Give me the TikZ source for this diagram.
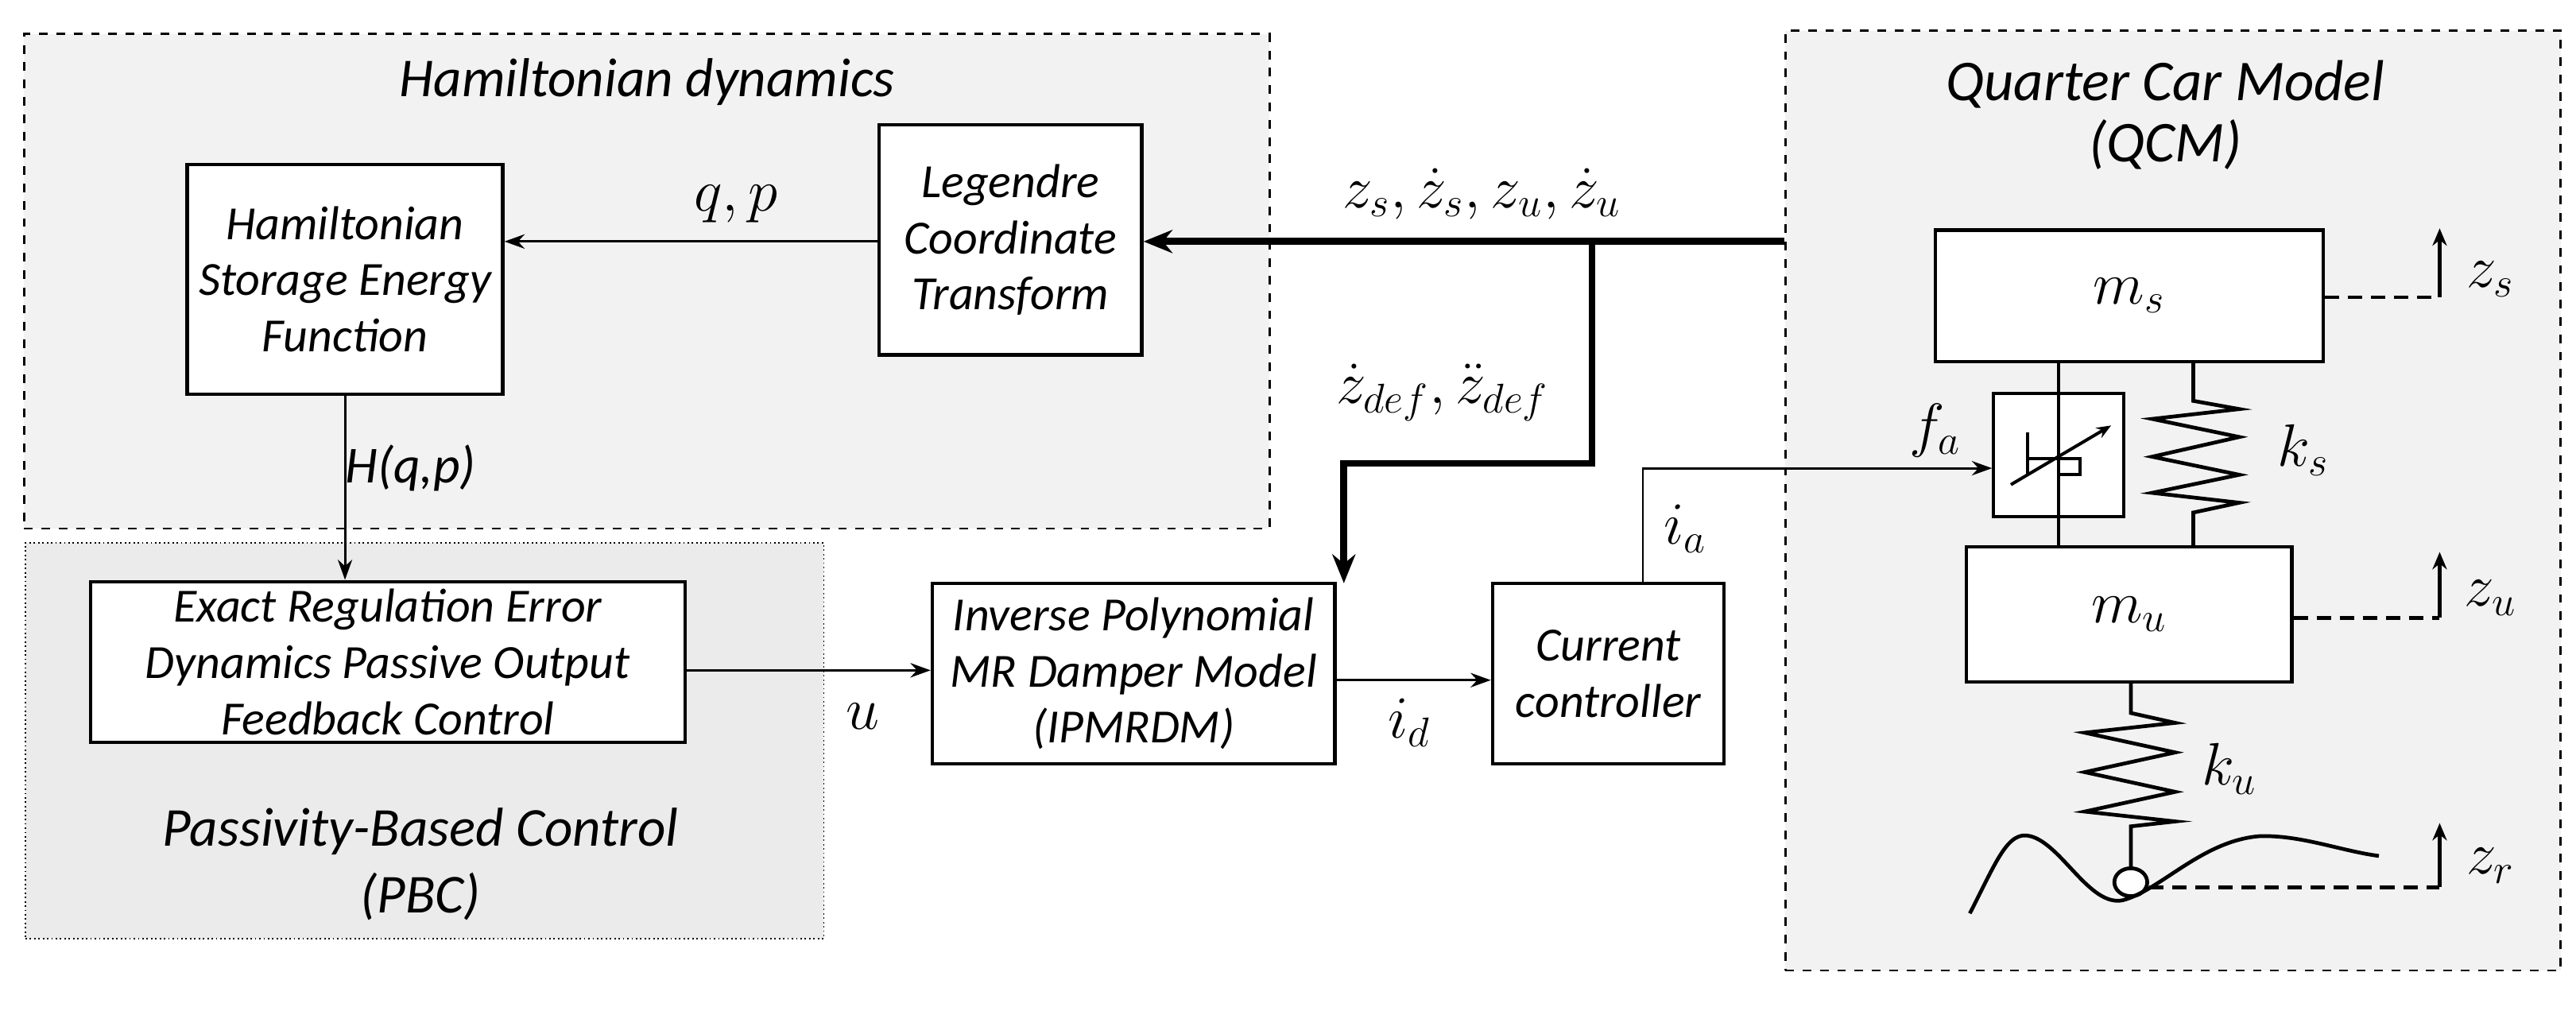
\documentclass[tikz,border=0pt]{standalone}
\usepackage{fontspec}
\setmainfont{Carlito}
\usetikzlibrary{arrows.meta,shapes.geometric}
\begin{document}
\begin{tikzpicture}[x=0.02cm,y=-0.02cm,
  blk/.style={draw,line width=1.2pt,fill=white,align=center,font=\fontsize{16.5}{19.5}\selectfont\itshape,inner sep=0pt},
  grp/.style={draw,dashed,line width=0.8pt,fill=black!5},
  lab/.style={font=\fontsize{21}{24}\selectfont},
  ttl/.style={font=\fontsize{19}{23}\selectfont\itshape,align=center},
  arr/.style={line width=0.8pt,-{Stealth[length=7pt,width=5pt]}},
  thk/.style={line width=2.4pt},
  dsh/.style={dashed,line width=1.3pt,dash pattern=on 5pt off 3pt},
  up/.style={line width=1.3pt,-{Stealth[length=6pt,width=5pt]}},
  sp/.style={line width=1.3pt}]
\useasboundingbox (0,0) rectangle (1568,615);
% groups
\node[grp,minimum width=758*0.02cm,minimum height=301*0.02cm,anchor=north west] (hd) at (14,20) {};
\node[draw,densely dotted,line width=0.5pt,fill=black!8,minimum width=486*0.02cm,minimum height=241*0.02cm,anchor=north west] (pbcg) at (15,330) {};
\node[grp,minimum width=472*0.02cm,minimum height=572*0.02cm,anchor=north west] (qcm) at (1086,18) {};
\node[ttl] (hdt) at (394,50) {Hamiltonian dynamics};
\node[ttl] (pbct) at (256,526) {Passivity-Based Control\\(PBC)};
\node[ttl,font=\fontsize{20}{21}\selectfont\itshape] (qcmt) at (1318,70) {Quarter Car Model\\(QCM)};
% blocks
\node[blk,minimum width=192*0.02cm,minimum height=140*0.02cm] (ham) at (210,170) {Hamiltonian\\Storage Energy\\Function};
\node[blk,minimum width=160*0.02cm,minimum height=140*0.02cm] (leg) at (615,146) {Legendre\\Coordinate\\Transform};
\node[blk,minimum width=362*0.02cm,minimum height=98*0.02cm] (ere) at (236,403) {Exact Regulation Error\\Dynamics Passive Output\\Feedback Control};
\node[blk,minimum width=245*0.02cm,minimum height=110*0.02cm] (ipm) at (690,410) {Inverse Polynomial\\MR Damper Model\\(IPMRDM)};
\node[blk,minimum width=141*0.02cm,minimum height=110*0.02cm] (cur) at (979,410) {Current\\controller};
% QCM parts
\node[blk,minimum width=236*0.02cm,minimum height=80*0.02cm] (ms) at (1296,180) {};
\node (msl) at (1296,180) {\fontsize{22}{24}\selectfont$m_s$};
\node[blk,minimum width=198*0.02cm,minimum height=82*0.02cm] (mu) at (1296,374) {};
\node (mul) at (1296,374) {\fontsize{22}{24}\selectfont$m_u$};
\coordinate (rodT) at (1253,220);
\coordinate (rodB) at (1253,333);
\draw[sp] (rodT) -- (rodB);
\node[draw,line width=1.1pt,fill=white,minimum width=79*0.02cm,minimum height=75*0.02cm,inner sep=0pt] (dmp) at (1253,277) {};
\draw[sp] (1253,240) -- (1253,314);
\draw[line width=1.1pt] (1234,263) -- (1234,289) (1234,279) -- (1266,279) -- (1266,289) -- (1253,289);
\draw[line width=1.1pt,-{Stealth[length=5pt,width=4pt]}] (1224,295) -- (1285,259);
\draw[sp] (1335,220) -- (1335,244) -- (1363,249) -- (1310,255) -- (1363,266) -- (1310,278) -- (1363,289) -- (1310,300) -- (1363,306) -- (1335,312) -- (1335,333);
\draw[sp] (1297,415) -- (1297,434) -- (1324,440) -- (1269,446) -- (1324,458) -- (1269,470) -- (1324,482) -- (1269,494) -- (1324,500) -- (1297,503) -- (1297,528);
\node[draw,line width=1.3pt,ellipse,minimum width=20*0.02cm,minimum height=17*0.02cm,inner sep=0pt,fill=white] (wh) at (1297,537) {};
\draw[sp] (1199,556) .. controls (1215,525) and (1222,505) .. (1236,509) .. controls (1255,514) and (1272,552) .. (1292,548) .. controls (1315,542) and (1340,512) .. (1375,509) .. controls (1400,508) and (1425,518) .. (1448,521);
% displacement arrows
\coordinate (zsb) at (1485,181); \coordinate (zst) at (1485,139);
\coordinate (zub) at (1485,376); \coordinate (zut) at (1485,336);
\coordinate (zrb) at (1485,540); \coordinate (zrt) at (1485,501);
\draw[dsh] (ms.east |- zsb) -- (zsb);
\draw[up] (zsb) -- (zst);
\draw[dsh] (mu.east |- zub) -- (zub);
\draw[up] (zub) -- (zut);
\draw[dsh] (wh.east |- zrb) -- (zrb);
\draw[up] (zrb) -- (zrt);
\node[lab] (zsl) at (1516,170) {$z_s$};
\node[lab] (zul) at (1516,364) {$z_u$};
\node[lab] (zrl) at (1516,527) {$z_r$};
\node[lab] (fal) at (1178,262) {$f_a$};
\node[lab] (ksl) at (1402,274) {$k_s$};
\node[lab] (kul) at (1357,468) {$k_u$};
% connectors
\coordinate (qin) at (1086,147);
\coordinate (br) at (969,147);
\draw[thk,-{Stealth[length=10pt,width=8pt]}] (qin) -- (leg.east |- qin);
\draw[thk,-{Stealth[length=10pt,width=8pt]}] (br) -- (969,282) -- (818,282) -- (818,355);
\draw[arr] (leg.west |- 0,147) -- (ham.east |- 0,147);
\draw[arr] (ham.south) -- (ham.south |- ere.north);
\draw[arr] (ere.east |- 0,408) -- (ipm.west |- 0,408);
\draw[arr] (ipm.east |- 0,414) -- (cur.west |- 0,414);
\draw[arr] (1000,355) -- (1000,285) -- (dmp.west |- 0,285);
\node[lab] (zl) at (902,118) {$z_s, \dot z_s, z_u, \dot z_u$};
\node[lab] (zdl) at (878,239) {$\dot z_{def}, \ddot z_{def}$};
\node[lab] (qpl) at (448,124) {$q,p$};
\node[font=\fontsize{18}{21}\selectfont\itshape] (hl) at (250,285) {H(q,p)};
\node[lab] (ul) at (525,436) {$u$};
\node[lab] (idl) at (858,440) {$i_d$};
\node[lab] (ial) at (1026,322) {$i_a$};
\end{tikzpicture}
\end{document}
